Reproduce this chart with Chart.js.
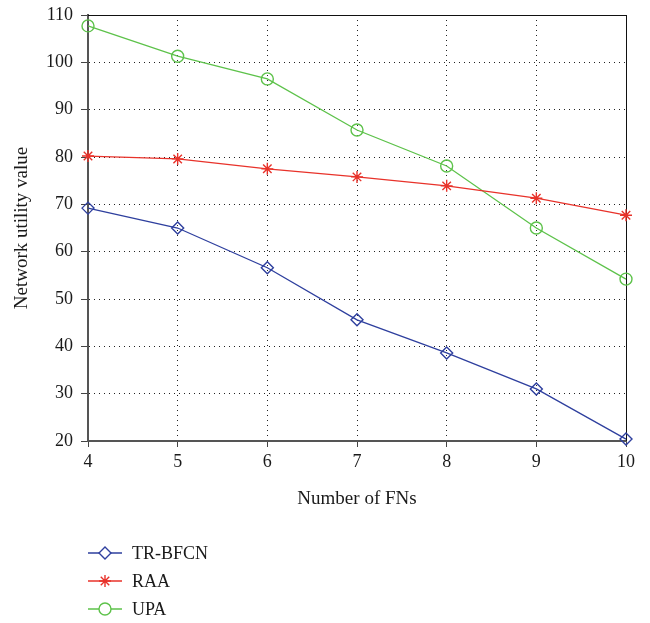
<!DOCTYPE html>
<html>
<head>
<meta charset="utf-8">
<script src="https://cdn.jsdelivr.net/npm/chart.js@4/dist/chart.umd.min.js"></script>
<style>
  html, body { margin: 0; padding: 0; background: #fff; }
  #wrap { width: 650px; height: 623px; }
</style>
</head>
<body>
<div id="wrap"><canvas id="c" width="650" height="623"></canvas></div>
<script>
// Number of fog nodes on the x axis
const fnCounts = [4, 5, 6, 7, 8, 9, 10];

// Network utility value per scheme
const trBfcn = [69.2, 65.0, 56.6, 45.6, 38.6, 31.0, 20.4];
const raa    = [80.2, 79.6, 77.5, 75.8, 73.9, 71.3, 67.7];
const upa    = [107.7, 101.3, 96.5, 85.7, 78.1, 65.0, 54.2];

const seriesNames = ['TR-BFCN', 'RAA', 'UPA'];
const yTicks = [20, 30, 40, 50, 60, 70, 80, 90, 100, 110];

const FONT = '"Liberation Serif", "Times New Roman", serif';
const BLUE = '#2E3F9E', RED = '#E8322A', GREEN = '#5DC24A';

function series(label, values, color, style, radius) {
  return {
    label,
    data: fnCounts.map((x, i) => ({ x, y: values[i] })),
    borderColor: color,
    backgroundColor: 'rgba(255,255,255,0)',
    borderWidth: 1.3,
    pointStyle: style,
    pointRadius: radius,
    pointBorderColor: color,
    pointBackgroundColor: 'rgba(255,255,255,0)',
    pointBorderWidth: 1.4,
    tension: 0,
    clip: false
  };
}

// Solid thin frame on the top and right edges of the plot area
const framePlugin = {
  id: 'frame',
  beforeDatasetsDraw(chart) {
    const { ctx, chartArea: a } = chart;
    ctx.save();
    ctx.strokeStyle = '#111';
    ctx.lineWidth = 1;
    ctx.setLineDash([]);
    ctx.beginPath();
    ctx.moveTo(a.left, a.top + 0.5);
    ctx.lineTo(a.right + 0.5, a.top + 0.5);
    ctx.lineTo(a.right + 0.5, a.bottom);
    ctx.stroke();
    ctx.restore();
  }
};

// Vertical legend under the x-axis title
const legendPlugin = {
  id: 'stackLegend',
  afterDraw(chart) {
    const { ctx } = chart;
    const x0 = 88, x1 = 122, tx = 132;
    const rows = [553, 581, 609];
    ctx.save();
    chart.data.datasets.forEach((ds, i) => {
      const y = rows[i];
      ctx.setLineDash([]);
      ctx.strokeStyle = ds.borderColor;
      ctx.lineWidth = ds.borderWidth;
      ctx.beginPath();
      ctx.moveTo(x0, y);
      ctx.lineTo(x1, y);
      ctx.stroke();
      ctx.fillStyle = '#ffffff';
      ctx.lineWidth = ds.pointBorderWidth;
      Chart.helpers.drawPoint(ctx, {
        pointStyle: ds.pointStyle,
        radius: ds.pointRadius,
        rotation: 0,
        borderWidth: ds.pointBorderWidth
      }, (x0 + x1) / 2, y);
      ctx.fillStyle = '#1a1a1a';
      ctx.font = '18px ' + FONT;
      ctx.textBaseline = 'middle';
      ctx.textAlign = 'left';
      ctx.fillText(ds.label, tx, y + 1);
    });
    ctx.restore();
  }
};

new Chart(document.getElementById('c'), {
  type: 'line',
  data: {
    datasets: [
      series(seriesNames[0], trBfcn, BLUE, 'rectRot', 6),
      series(seriesNames[1], raa, RED, 'star', 6),
      series(seriesNames[2], upa, GREEN, 'circle', 6)
    ]
  },
  options: {
    responsive: false,
    animation: false,
    layout: { padding: { left: 0, right: 24, top: 15, bottom: 110 } },
    plugins: { legend: { display: false }, tooltip: { enabled: false } },
    scales: {
      x: {
        type: 'linear',
        min: 4, max: 10,
        afterBuildTicks(scale) { scale.ticks = fnCounts.map(v => ({ value: v })); },
        afterFit(scale) { scale.height = 72; },
        grid: {
          color: '#222',
          lineWidth: 1,
          tickColor: '#444',
          tickBorderDash: [],
          tickLength: 6,
          drawOnChartArea: true
        },
        border: { display: true, color: '#555', width: 2, dash: [1, 4] },
        ticks: { color: '#1a1a1a', font: { family: FONT, size: 18 }, padding: 4 },
        title: {
          display: true,
          text: 'Number of FNs',
          color: '#1a1a1a',
          font: { family: FONT, size: 19 },
          padding: { top: 0, bottom: 3 }
        }
      },
      y: {
        type: 'linear',
        min: 20, max: 110,
        afterBuildTicks(scale) { scale.ticks = yTicks.map(v => ({ value: v })); },
        afterFit(scale) { scale.width = 88; scale.paddingTop = 0; scale.paddingBottom = 0; },
        grid: {
          color: '#222',
          lineWidth: 1,
          tickColor: '#444',
          tickBorderDash: [],
          tickLength: 7,
          drawOnChartArea: true
        },
        border: { display: true, color: '#555', width: 2, dash: [1, 4] },
        ticks: { color: '#1a1a1a', font: { family: FONT, size: 18 }, padding: 8 },
        title: {
          display: true,
          text: 'Network utility value',
          color: '#1a1a1a',
          font: { family: FONT, size: 19 },
          padding: { top: 11, bottom: 0 }
        }
      }
    }
  },
  plugins: [framePlugin, legendPlugin]
});
</script>
</body>
</html>
